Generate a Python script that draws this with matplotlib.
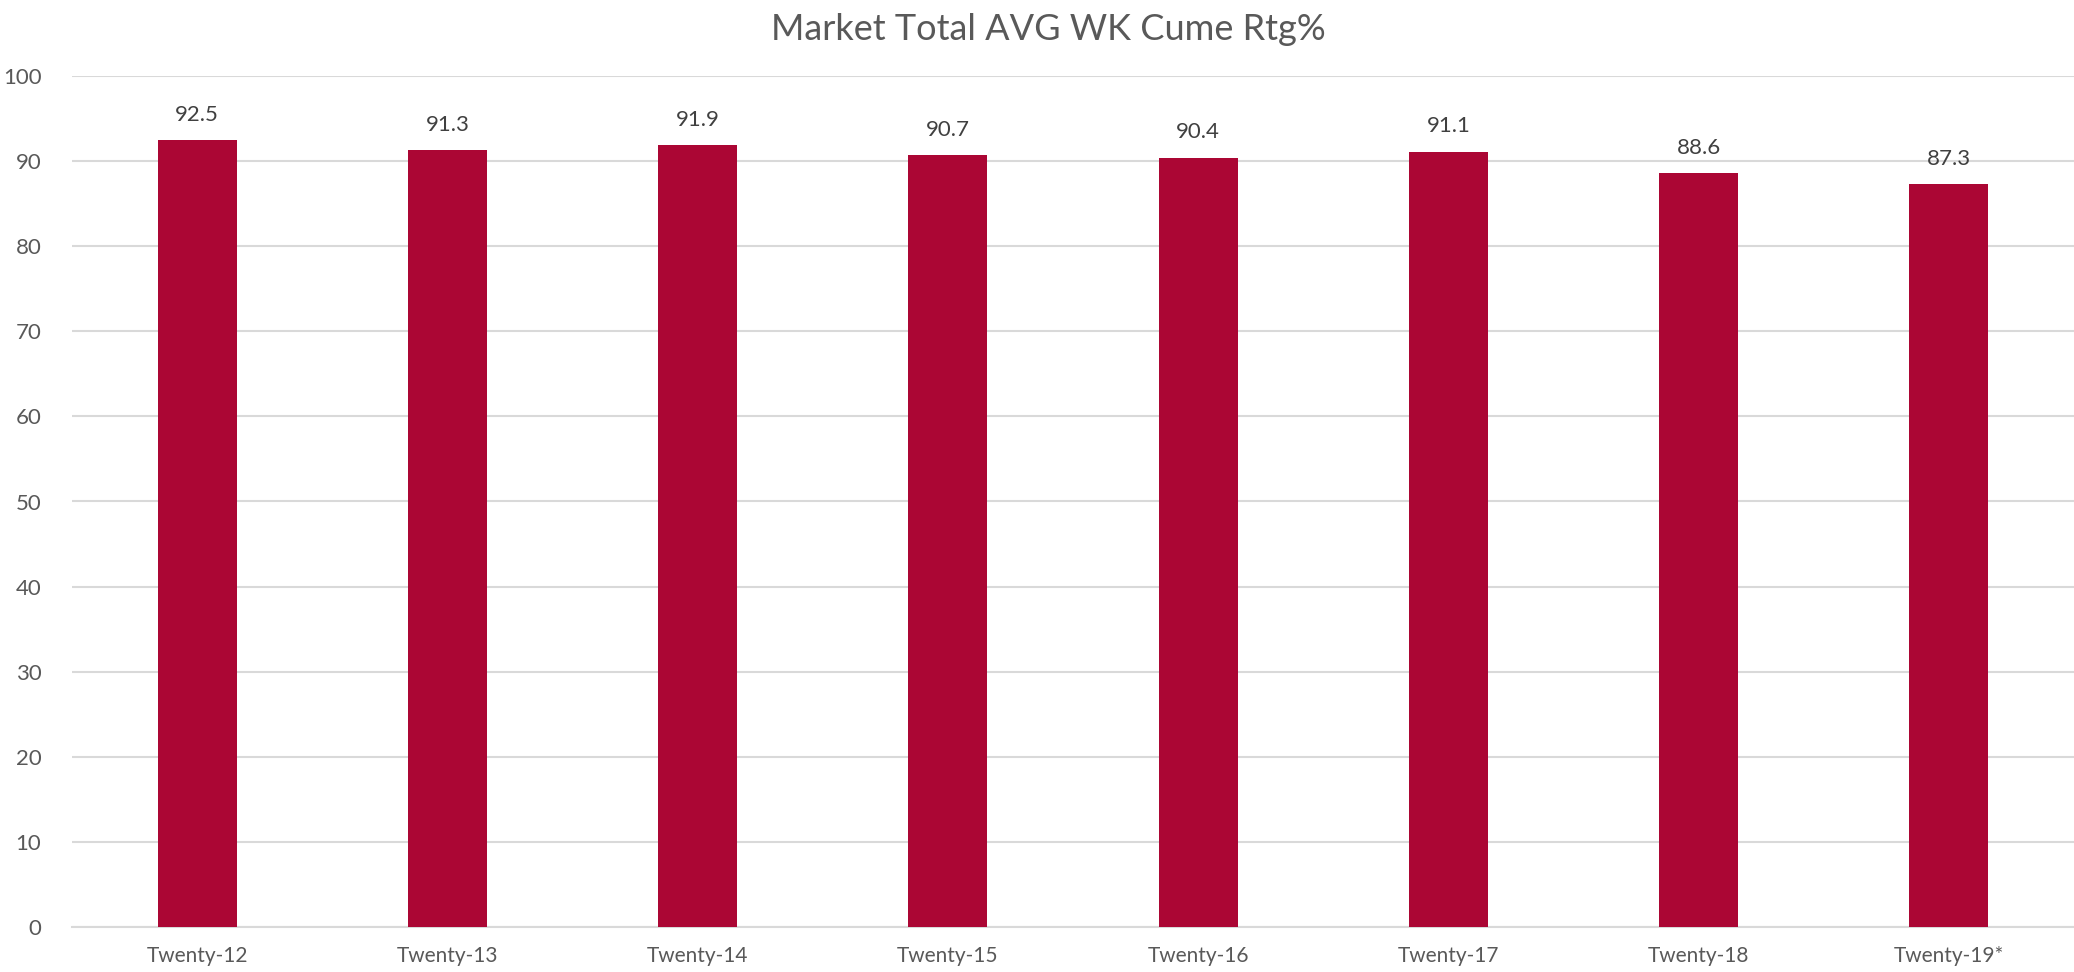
import matplotlib
matplotlib.use("Agg")
import matplotlib.pyplot as plt
import numpy as np

plt.rcParams['font.family'] = ['Lato', 'DejaVu Sans']

# yearly cume ratings
years = ["Twenty-12", "Twenty-13", "Twenty-14", "Twenty-15",
         "Twenty-16", "Twenty-17", "Twenty-18", "Twenty-19*"]
cume_rtg = [92.5, 91.3, 91.9, 90.7, 90.4, 91.1, 88.6, 87.3]
yticks = [0, 10, 20, 30, 40, 50, 60, 70, 80, 90, 100]

bar_color = "#AB0634"
text_color = "#595959"
grid_color = "#D9D9D9"

fig = plt.figure(figsize=(20.74, 9.72), dpi=100)
ax = fig.add_axes([72 / 2074, 45 / 972, 2002 / 2074, 851 / 972])

x = np.arange(len(years))
bars = ax.bar(x, cume_rtg, width=0.315, color=bar_color, zorder=3)

# value labels above each bar
for xi, v in zip(x, cume_rtg):
    ax.annotate(f"{v:.1f}", (xi, v), xytext=(0, 11), textcoords="offset points",
                ha="center", va="bottom", fontsize=16, color="#404040")

ax.set_xlim(-0.5, len(years) - 0.5)
ax.set_ylim(0, 100)
ax.set_yticks(yticks)
ax.set_xticks(x)
ax.set_xticklabels(years)
ax.tick_params(axis="both", length=0, labelcolor=text_color)
ax.tick_params(axis="y", pad=22, labelsize=16)
ax.tick_params(axis="x", pad=14, labelsize=15)
ax.grid(axis="y", color=grid_color, linewidth=1.5, zorder=0)
for s in ["top", "right", "left"]:
    ax.spines[s].set_visible(False)
ax.spines["bottom"].set_color(grid_color)
ax.spines["bottom"].set_linewidth(1.5)

fig.text(1048 / 2074, 1 - 30 / 972, "Market Total AVG WK Cume Rtg%",
         ha="center", va="center", fontsize=26, color=text_color)

fig.savefig("out.png", dpi=100)
